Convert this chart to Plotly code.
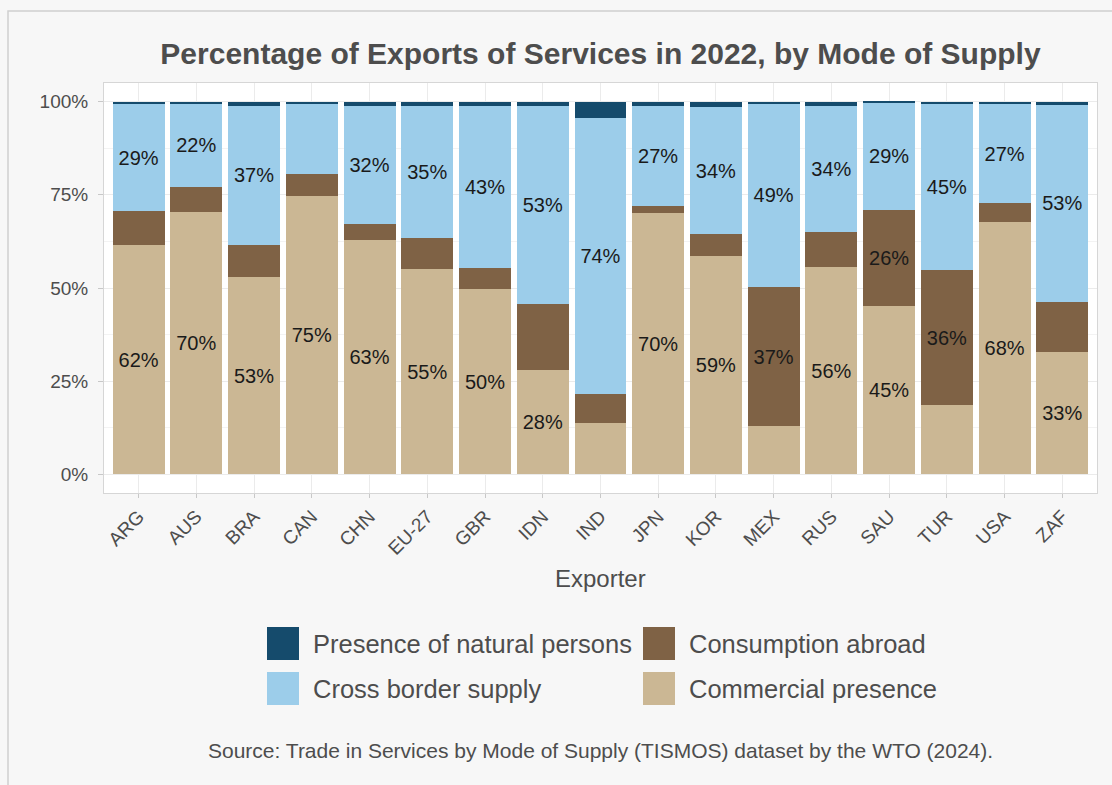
import plotly.graph_objects as go

# Share of services exports by mode of supply (percent), 2022
exporters = ["ARG", "AUS", "BRA", "CAN", "CHN", "EU-27", "GBR", "IDN", "IND",
             "JPN", "KOR", "MEX", "RUS", "SAU", "TUR", "USA", "ZAF"]
commercial_presence = [61.6, 70.3, 53.0, 74.8, 63.0, 55.1, 49.7, 28.1, 13.7,
                       70.1, 58.7, 12.9, 55.6, 45.2, 18.6, 67.6, 32.9]
consumption_abroad = [9.0, 6.8, 8.6, 5.8, 4.2, 8.3, 5.6, 17.5, 7.9,
                      2.0, 5.7, 37.3, 9.3, 25.7, 36.2, 5.1, 13.4]
cross_border_supply = [28.7, 22.4, 37.3, 18.95, 31.6, 35.4, 43.4, 53.3, 74.0,
                       26.8, 34.1, 49.4, 34.0, 28.9, 44.7, 26.7, 52.9]
natural_persons = [0.7, 0.5, 1.1, 0.45, 1.2, 1.2, 1.3, 1.1, 4.4,
                   1.1, 1.5, 0.4, 1.1, 0.2, 0.5, 0.6, 0.8]
y_ticks = [0, 25, 50, 75, 100]
y_tick_labels = ["0%", "25%", "50%", "75%", "100%"]

series = [
    ("Commercial presence", commercial_presence, "#cbb794"),
    ("Consumption abroad", consumption_abroad, "#7f6245"),
    ("Cross border supply", cross_border_supply, "#9ccdea"),
    ("Presence of natural persons", natural_persons, "#154b6c"),
]

FONT = "Arial, Liberation Sans, Helvetica, sans-serif"
TEXT_GREY = "#4d4d4d"
W, H = 1112, 785
ML, MR, MT, MB = 104, 15, 83, 292
PW, PH = W - ML - MR, H - MT - MB


def px_x(x):
    return (x - ML) / PW


def px_y(y):
    return (H - MB - y) / PH


def seg_label(v):
    return f"{round(v)}%" if v >= 20 else ""


fig = go.Figure()
for name, vals, color in series:
    fig.add_trace(go.Bar(
        x=exporters, y=vals, name=name,
        marker=dict(color=color, line=dict(width=0)),
        width=0.9,
        text=[seg_label(v) for v in vals],
        textposition="inside", insidetextanchor="middle", textangle=0,
        constraintext="none",
        insidetextfont=dict(family=FONT, size=20, color="#1a1a1a"),
        hoverinfo="x+y+name",
        showlegend=False,
    ))

# Legend: 2 x 2 grid of colour keys with labels
legend_items = [
    ("Presence of natural persons", "#154b6c", 267, 627),
    ("Consumption abroad", "#7f6245", 643, 627),
    ("Cross border supply", "#9ccdea", 267, 672),
    ("Commercial presence", "#cbb794", 643, 672),
]
KEY_W, KEY_H = 32, 33
shapes = []
annotations = []
for label, color, lx, ly in legend_items:
    shapes.append(dict(type="rect", xref="paper", yref="paper",
                       x0=px_x(lx), x1=px_x(lx + KEY_W),
                       y0=px_y(ly), y1=px_y(ly + KEY_H),
                       fillcolor=color, line=dict(width=0), layer="above"))
    annotations.append(dict(xref="paper", yref="paper",
                            x=px_x(lx + KEY_W + 12), y=px_y(ly + KEY_H / 2),
                            xanchor="left", yanchor="middle", showarrow=False,
                            text=label,
                            font=dict(family=FONT, size=25.5, color=TEXT_GREY)))

# Card outline
shapes.append(dict(type="rect", xref="paper", yref="paper",
                   x0=px_x(8), x1=px_x(W + 20), y0=px_y(11), y1=px_y(H + 20),
                   fillcolor="rgba(0,0,0,0)", line=dict(color="#d0d0d0", width=1.5),
                   layer="below"))

annotations.append(dict(xref="paper", yref="paper", x=0.5, y=px_y(578),
                        xanchor="center", yanchor="middle", showarrow=False,
                        text="Exporter",
                        font=dict(family=FONT, size=24, color=TEXT_GREY)))
annotations.append(dict(xref="paper", yref="paper", x=0.5, y=px_y(750),
                        xanchor="center", yanchor="middle", showarrow=False,
                        text="Source: Trade in Services by Mode of Supply (TISMOS) dataset by the WTO (2024).",
                        font=dict(family=FONT, size=21, color=TEXT_GREY)))

fig.update_layout(
    barmode="stack",
    bargap=0.1,
    width=W, height=H,
    margin=dict(l=ML, r=MR, t=MT, b=MB),
    paper_bgcolor="#f7f7f7",
    plot_bgcolor="white",
    font=dict(family=FONT, color=TEXT_GREY),
    title=dict(text="<b>Percentage of Exports of Services in 2022, by Mode of Supply</b>",
               x=0.5, xref="paper", xanchor="center",
               y=1 - 53 / H, yref="container", yanchor="middle",
               font=dict(family=FONT, size=30, color=TEXT_GREY)),
    shapes=shapes,
    annotations=annotations,
    showlegend=False,
)

fig.update_xaxes(
    type="category", range=[-0.6, 16.6],
    tickangle=-45, tickfont=dict(family=FONT, size=19, color=TEXT_GREY),
    showgrid=True, gridcolor="#ebebeb", gridwidth=1,
    ticks="outside", ticklen=4, tickcolor="#c8c8c8",
    showline=True, linecolor="#d6d6d6", linewidth=1, mirror=True,
    zeroline=False,
)
fig.update_yaxes(
    range=[-5, 105],
    tickvals=y_ticks, ticktext=y_tick_labels,
    tickfont=dict(family=FONT, size=19, color=TEXT_GREY),
    showgrid=True, gridcolor="#ebebeb", gridwidth=1,
    minor=dict(dtick=12.5, tick0=0, showgrid=True, gridcolor="#f3f3f3", gridwidth=1),
    ticks="outside", ticklen=5, tickcolor="#c8c8c8",
    showline=True, linecolor="#d6d6d6", linewidth=1, mirror=True,
    zeroline=False,
    ticklabelstandoff=6,
)

fig.write_html("out.html")
